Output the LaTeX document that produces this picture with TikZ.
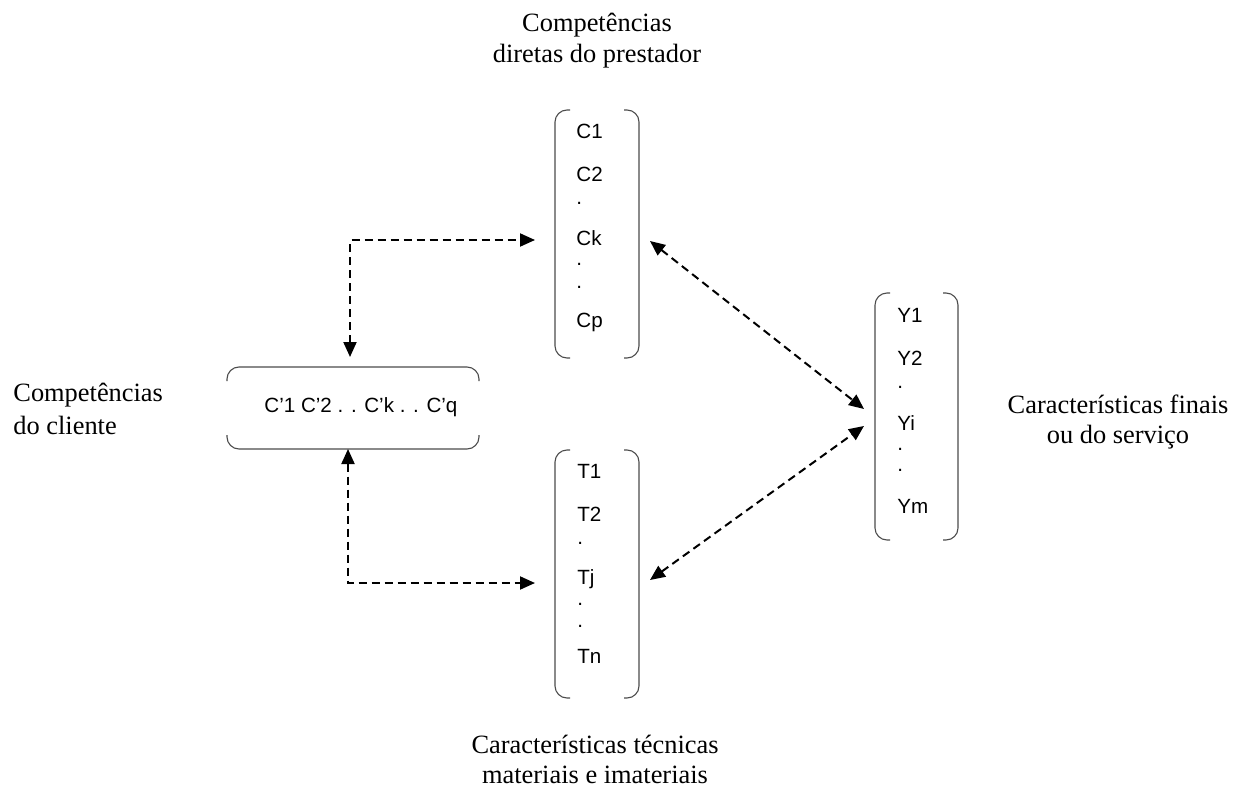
\documentclass[tikz,border=0pt]{standalone}
\usepackage{fontspec}
\setmainfont{Liberation Serif}
\newfontfamily\itemfont{Liberation Sans}
\usetikzlibrary{arrows.meta,fit,calc}

% rounded brackets on the left and right of a column box
\newcommand\colbrackets[1]{%
  \draw[bracket] ([xshift=7.5pt]#1.north west) -| (#1.west) |- ([xshift=7.5pt]#1.south west);
  \draw[bracket] ([xshift=-7.5pt]#1.north east) -| (#1.east) |- ([xshift=-7.5pt]#1.south east);}

\begin{document}
\begin{tikzpicture}[x=0.5pt,y=-0.5pt,
  bracket/.style={draw=black!70, line width=0.55pt, rounded corners=6pt},
  area/.style={inner sep=0pt, outer sep=0pt},
  entry/.style={font=\itemfont\fontsize{10.3}{12}\selectfont, inner sep=0pt, anchor=base west},
  caption/.style={font=\fontsize{13.2}{16}\selectfont, inner sep=0pt, anchor=base},
  conn/.style={line width=1pt, dash pattern=on 4pt off 2.5pt,
    >={Triangle[length=7.5pt,width=6.5pt]}, <->}
]
\useasboundingbox (0,0) rectangle (1242,792);

% column boxes and the client box
\node[area, fit={(555,110) (639,358)}] (cbox) {};
\node[area, fit={(555,450) (639,698)}] (tbox) {};
\node[area, fit={(875,293) (958,540)}] (ybox) {};
\node[area, fit={(227,367) (479,449)}] (client) {};

\colbrackets{cbox}
\colbrackets{tbox}
\colbrackets{ybox}
\draw[bracket] ([yshift=-7pt]client.north west) |- (client.north) -| ([yshift=-7pt]client.north east);
\draw[bracket] ([yshift=7pt]client.south west) |- (client.south) -| ([yshift=7pt]client.south east);

% column entries
\foreach \dy/\t [count=\i] in {29/C1,71/C2,95/.,135/Ck,155/.,178/.,217/Cp}
  \node[entry] (c\i) at ($(cbox.north west)+(21,\dy)$) {\t};
\foreach \dy/\t [count=\i] in {28/T1,71/T2,94/.,134/Tj,155/.,177/.,213/Tn}
  \node[entry] (t\i) at ($(tbox.north west)+(22,\dy)$) {\t};
\foreach \dy/\t [count=\i] in {29/Y1,72/Y2,95/.,137/Yi,157/.,178/.,220/Ym}
  \node[entry] (y\i) at ($(ybox.north west)+(22,\dy)$) {\t};
\node[entry] (clientitems) at ($(client.north west)+(37,45)$) {C’1 C’2 . . C’k . . C’q};

% captions
\node[caption] (capC1) at (597,32) {Competências};
\node[caption] (capC2) at (597,63) {diretas do prestador};
\node[caption, anchor=base west] (capK1) at (13,401) {Competências};
\node[caption, anchor=base west] (capK2) at (13,434) {do cliente};
\node[caption] (capT1) at (595,753) {Características técnicas};
\node[caption] (capT2) at (595,783) {materiais e imateriais};
\node[caption] (capY1) at (1118,413) {Características finais};
\node[caption] (capY2) at (1118,443) {ou do serviço};

% dashed two-way connectors
\draw[conn] ([shift={(-1.5pt,5pt)}]client.north) |- ([shift={(-10pt,-65pt)}]cbox.north west);
\draw[conn] ([shift={(-2.5pt,0pt)}]client.south) |- ([shift={(-10pt,-66.5pt)}]tbox.north west);
\draw[conn] ([shift={(5.5pt,-65.5pt)}]cbox.north east) -- ([shift={(-5.5pt,-58pt)}]ybox.north west);
\draw[conn] ([shift={(5.5pt,-65pt)}]tbox.north east) -- ([shift={(-5.5pt,-66.5pt)}]ybox.north west);
\end{tikzpicture}
\end{document}
